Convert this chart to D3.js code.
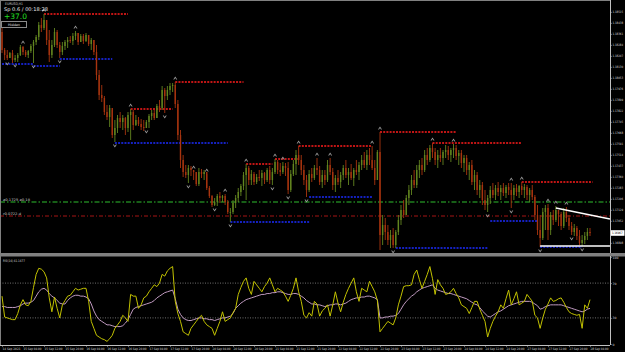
<!DOCTYPE html>
<html>
<head>
<meta charset="utf-8">
<script src="https://cdn.jsdelivr.net/npm/d3@7"></script>
<style>
  body { margin: 0; background: #000; }
  svg { display: block; }
  text { font-family: "DejaVu Sans", sans-serif; }
</style>
</head>
<body>
<div id="chart"></div>
<script>
// EURUSD H1, 14 Sep 20:00 -> 28 Sep 08:00
const firstOpen = 1.18374;
const high = [
  1.18402, 1.18262, 1.18248, 1.18234, 1.18248, 1.18213, 1.18227, 1.18283, 1.18276, 1.18248, 1.18248, 1.18290, 1.18318, 1.18353, 1.18444,
  1.18472, 1.18500, 1.18458, 1.18388, 1.18318, 1.18402, 1.18388, 1.18304, 1.18304, 1.18318, 1.18339, 1.18346, 1.18367, 1.18381, 1.18367,
  1.18360, 1.18360, 1.18367, 1.18353, 1.18332, 1.18318, 1.18283, 1.18108, 1.18003, 1.17926, 1.17863, 1.17863, 1.17828, 1.17758, 1.17793,
  1.17814, 1.17793, 1.17779, 1.17814, 1.17835, 1.17828, 1.17793, 1.17779, 1.17765, 1.17758, 1.17758, 1.17800, 1.17828, 1.17828, 1.17870,
  1.17898, 1.17996, 1.17982, 1.17996, 1.18017, 1.18017, 1.18024, 1.17898, 1.17688, 1.17513, 1.17443, 1.17443, 1.17436, 1.17401, 1.17394,
  1.17422, 1.17415, 1.17408, 1.17380, 1.17296, 1.17233, 1.17212, 1.17240, 1.17254, 1.17233, 1.17240, 1.17198, 1.17142, 1.17198, 1.17233,
  1.17282, 1.17310, 1.17394, 1.17450, 1.17436, 1.17408, 1.17394, 1.17380, 1.17408, 1.17408, 1.17394, 1.17422, 1.17436, 1.17422, 1.17485,
  1.17478, 1.17457, 1.17464, 1.17457, 1.17464, 1.17408, 1.17478, 1.17548, 1.17576, 1.17513, 1.17443, 1.17373, 1.17408, 1.17422, 1.17443,
  1.17492, 1.17436, 1.17408, 1.17408, 1.17478, 1.17492, 1.17422, 1.17373, 1.17408, 1.17394, 1.17443, 1.17478, 1.17422, 1.17450, 1.17422,
  1.17478, 1.17464, 1.17513, 1.17534, 1.17548, 1.17562, 1.17576, 1.17478, 1.17548, 1.17674, 1.17093, 1.17072, 1.17023, 1.16988, 1.17002,
  1.16988, 1.17093, 1.17163, 1.17198, 1.17233, 1.17303, 1.17373, 1.17408, 1.17443, 1.17478, 1.17492, 1.17548, 1.17562, 1.17583, 1.17597,
  1.17562, 1.17548, 1.17562, 1.17548, 1.17583, 1.17576, 1.17562, 1.17590, 1.17583, 1.17548, 1.17548, 1.17513, 1.17513, 1.17464, 1.17478,
  1.17408, 1.17394, 1.17338, 1.17324, 1.17268, 1.17233, 1.17296, 1.17317, 1.17303, 1.17324, 1.17303, 1.17317, 1.17303, 1.17317, 1.17317,
  1.17303, 1.17310, 1.17303, 1.17324, 1.17310, 1.17303, 1.17282, 1.17303, 1.17233, 1.17163, 1.17093, 1.17142, 1.17163, 1.17170, 1.17114,
  1.17128, 1.17156, 1.17128, 1.17114, 1.17142, 1.17149, 1.17093, 1.17044, 1.17030, 1.17016, 1.16988, 1.16953, 1.16974, 1.17002, 1.17002
];
const low = [
  1.18227, 1.18178, 1.18178, 1.18192, 1.18157, 1.18164, 1.18164, 1.18206, 1.18213, 1.18199, 1.18192, 1.18227, 1.18157, 1.18283, 1.18318,
  1.18374, 1.18388, 1.18283, 1.18164, 1.18192, 1.18269, 1.18262, 1.18192, 1.18213, 1.18248, 1.18262, 1.18297, 1.18283, 1.18318, 1.18283,
  1.18304, 1.18290, 1.18304, 1.18276, 1.18248, 1.18213, 1.18038, 1.17898, 1.17884, 1.17793, 1.17758, 1.17709, 1.17632, 1.17604, 1.17667,
  1.17702, 1.17688, 1.17653, 1.17674, 1.17618, 1.17688, 1.17716, 1.17716, 1.17688, 1.17681, 1.17702, 1.17702, 1.17758, 1.17758, 1.17772,
  1.17814, 1.17828, 1.17807, 1.17898, 1.17933, 1.17954, 1.17842, 1.17618, 1.17422, 1.17359, 1.17352, 1.17317, 1.17366, 1.17338, 1.17296,
  1.17296, 1.17352, 1.17338, 1.17268, 1.17212, 1.17149, 1.17156, 1.17156, 1.17177, 1.17184, 1.17163, 1.17100, 1.17044, 1.17100, 1.17142,
  1.17184, 1.17226, 1.17268, 1.17198, 1.17303, 1.17303, 1.17303, 1.17310, 1.17331, 1.17296, 1.17310, 1.17324, 1.17310, 1.17303, 1.17380,
  1.17380, 1.17366, 1.17380, 1.17366, 1.17240, 1.17254, 1.17366, 1.17373, 1.17443, 1.17373, 1.17303, 1.17219, 1.17254, 1.17324, 1.17338,
  1.17373, 1.17303, 1.17282, 1.17303, 1.17324, 1.17373, 1.17268, 1.17254, 1.17303, 1.17282, 1.17338, 1.17352, 1.17303, 1.17338, 1.17296,
  1.17373, 1.17338, 1.17408, 1.17422, 1.17408, 1.17443, 1.17408, 1.17303, 1.17422, 1.16848, 1.16883, 1.16918, 1.16883, 1.16862, 1.16862,
  1.16862, 1.16953, 1.17023, 1.17072, 1.17093, 1.17163, 1.17233, 1.17282, 1.17282, 1.17352, 1.17373, 1.17394, 1.17443, 1.17464, 1.17492,
  1.17443, 1.17422, 1.17464, 1.17443, 1.17492, 1.17478, 1.17464, 1.17492, 1.17478, 1.17443, 1.17422, 1.17394, 1.17373, 1.17338, 1.17303,
  1.17268, 1.17233, 1.17212, 1.17163, 1.17128, 1.17114, 1.17170, 1.17212, 1.17198, 1.17226, 1.17198, 1.17226, 1.17212, 1.17233, 1.17142,
  1.17198, 1.17226, 1.17212, 1.17233, 1.17212, 1.17198, 1.17184, 1.17198, 1.17058, 1.16953, 1.16869, 1.16918, 1.16988, 1.16918, 1.16953,
  1.17023, 1.17044, 1.17016, 1.16988, 1.17002, 1.17044, 1.16988, 1.16953, 1.16946, 1.16918, 1.16883, 1.16876, 1.16890, 1.16918, 1.16946
];
const close = [
  1.18248, 1.18213, 1.18192, 1.18227, 1.18178, 1.18192, 1.18213, 1.18269, 1.18234, 1.18213, 1.18241, 1.18276, 1.18304, 1.18339, 1.18423,
  1.18402, 1.18458, 1.18318, 1.18213, 1.18283, 1.18374, 1.18283, 1.18234, 1.18276, 1.18304, 1.18318, 1.18311, 1.18346, 1.18367, 1.18304,
  1.18346, 1.18311, 1.18353, 1.18290, 1.18318, 1.18234, 1.18073, 1.17933, 1.17912, 1.17814, 1.17779, 1.17842, 1.17653, 1.17702, 1.17772,
  1.17744, 1.17772, 1.17702, 1.17793, 1.17814, 1.17723, 1.17758, 1.17730, 1.17709, 1.17702, 1.17744, 1.17786, 1.17807, 1.17772, 1.17856,
  1.17842, 1.17968, 1.17926, 1.17968, 1.17996, 1.18003, 1.17870, 1.17653, 1.17478, 1.17394, 1.17373, 1.17422, 1.17408, 1.17394, 1.17310,
  1.17394, 1.17380, 1.17394, 1.17282, 1.17226, 1.17163, 1.17184, 1.17226, 1.17212, 1.17226, 1.17184, 1.17114, 1.17114, 1.17177, 1.17212,
  1.17254, 1.17296, 1.17373, 1.17422, 1.17338, 1.17380, 1.17324, 1.17359, 1.17352, 1.17387, 1.17338, 1.17408, 1.17338, 1.17394, 1.17464,
  1.17408, 1.17394, 1.17436, 1.17422, 1.17268, 1.17380, 1.17450, 1.17513, 1.17478, 1.17408, 1.17338, 1.17268, 1.17380, 1.17352, 1.17422,
  1.17408, 1.17324, 1.17373, 1.17338, 1.17443, 1.17394, 1.17303, 1.17352, 1.17324, 1.17373, 1.17422, 1.17373, 1.17394, 1.17352, 1.17408,
  1.17394, 1.17443, 1.17478, 1.17443, 1.17513, 1.17478, 1.17422, 1.17338, 1.17534, 1.16953, 1.17023, 1.16974, 1.16918, 1.16953, 1.16883,
  1.16974, 1.17058, 1.17128, 1.17093, 1.17212, 1.17268, 1.17338, 1.17303, 1.17408, 1.17443, 1.17408, 1.17513, 1.17478, 1.17562, 1.17534,
  1.17478, 1.17513, 1.17492, 1.17534, 1.17548, 1.17513, 1.17548, 1.17562, 1.17506, 1.17527, 1.17457, 1.17492, 1.17408, 1.17443, 1.17324,
  1.17373, 1.17268, 1.17303, 1.17198, 1.17163, 1.17212, 1.17268, 1.17233, 1.17282, 1.17254, 1.17282, 1.17247, 1.17289, 1.17268, 1.17233,
  1.17282, 1.17254, 1.17296, 1.17268, 1.17289, 1.17233, 1.17268, 1.17219, 1.17093, 1.16988, 1.16932, 1.17114, 1.17142, 1.16988, 1.17093,
  1.17058, 1.17128, 1.17100, 1.17016, 1.17114, 1.17072, 1.17016, 1.16974, 1.17002, 1.16946, 1.16897, 1.16918, 1.16946, 1.16974, 1.16967
];

// RSI(14) and its moving average, per bar
const rsi = [
  55, 31, 30, 29, 28, 28, 35, 45, 51, 45, 44, 49, 65, 80, 87,
  86, 83, 76, 53, 37, 54, 41, 30, 45, 50, 55, 56, 60, 64, 62,
  63, 64, 64, 49, 26, 18, 10, 8, 6, 5, 3, 6, 10, 18, 22,
  26, 33, 30, 26, 57, 55, 55, 41, 45, 53, 55, 60, 64, 68, 66,
  70, 80, 78, 84, 87, 89, 49, 35, 26, 14, 12, 10, 18, 22, 26,
  30, 33, 26, 22, 20, 18, 10, 18, 26, 37, 26, 28, 30, 36, 41,
  57, 65, 72, 76, 64, 57, 72, 68, 64, 60, 66, 70, 76, 68, 60,
  64, 62, 60, 55, 49, 56, 64, 76, 60, 49, 33, 30, 36, 32, 49,
  46, 32, 38, 41, 45, 32, 45, 60, 47, 37, 48, 57, 64, 70, 76,
  60, 49, 64, 62, 60, 72, 66, 60, 50, 14, 18, 22, 26, 24, 22,
  30, 45, 55, 66, 67, 67, 68, 80, 85, 74, 64, 72, 80, 89, 75,
  57, 74, 68, 64, 57, 58, 60, 64, 58, 53, 45, 43, 41, 35, 42,
  49, 49, 40, 33, 26, 8, 18, 26, 32, 37, 45, 41, 52, 62, 45,
  52, 60, 45, 47, 49, 57, 53, 49, 33, 30, 18, 30, 40, 46, 53,
  49, 50, 52, 53, 48, 42, 37, 35, 34, 33, 34, 18, 45, 41, 51
];
const rsiMa = [
  43, 43, 42, 42, 42, 42, 43, 44, 46, 47, 47, 48, 50, 55, 60,
  63, 64, 62, 58, 55, 53, 50, 47, 46, 46, 50, 53, 55, 56, 56,
  55, 55, 54, 52, 46, 38, 32, 28, 26, 24, 22, 22, 21, 20, 20,
  20, 21, 24, 28, 34, 40, 42, 43, 44, 45, 46, 47, 48, 50, 53,
  55, 57, 59, 60, 61, 62, 52, 40, 34, 30, 28, 27, 27, 28, 29,
  30, 30, 29, 29, 28, 28, 27, 28, 29, 30, 30, 31, 32, 35, 41,
  44, 47, 49, 51, 52, 53, 54, 55, 56, 57, 57, 58, 58, 59, 59,
  60, 60, 59, 58, 57, 57, 58, 58, 57, 55, 53, 50, 48, 46, 46,
  45, 45, 44, 43, 44, 45, 45, 46, 46, 45, 46, 47, 49, 51, 52,
  53, 53, 54, 54, 55, 55, 54, 53, 51, 30, 30, 31, 31, 32, 32,
  33, 35, 40, 45, 49, 52, 55, 57, 60, 62, 64, 65, 66, 67, 68,
  64, 62, 61, 60, 59, 58, 58, 57, 56, 55, 54, 53, 52, 50, 48,
  46, 45, 42, 38, 35, 32, 31, 33, 35, 37, 38, 40, 42, 44, 45,
  46, 47, 48, 49, 49, 49, 49, 48, 46, 44, 40, 41, 43, 44, 45,
  45, 45, 45, 45, 44, 43, 42, 41, 40, 39, 38, 37, 38, 40, 41
];

const timeLabels = [
  '14 Sep 2021', '15 Sep 04:00', '15 Sep 12:00', '15 Sep 20:00', '16 Sep 04:00', '16 Sep 12:00',
  '16 Sep 20:00', '17 Sep 04:00', '17 Sep 12:00', '17 Sep 20:00', '20 Sep 04:00', '20 Sep 12:00',
  '20 Sep 20:00', '21 Sep 04:00', '21 Sep 12:00', '21 Sep 20:00', '22 Sep 04:00', '22 Sep 12:00',
  '22 Sep 20:00', '23 Sep 04:00', '23 Sep 12:00', '23 Sep 20:00', '24 Sep 04:00', '24 Sep 12:00',
  '24 Sep 20:00', '27 Sep 04:00', '27 Sep 12:00', '27 Sep 20:00', '28 Sep 04:00'
];
const priceTicks = [
  1.18515, 1.18438, 1.18361, 1.18284, 1.18207, 1.18130, 1.18053, 1.17976, 1.17899, 1.17822, 1.17745,
  1.17668, 1.17591, 1.17514, 1.17437, 1.17360, 1.17283, 1.17206, 1.17129, 1.17052, 1.16898
];
const rsiTicks = [100, 70, 30, 0];

// [fromBar, toBar, price]
const resistance = [
  [16, 48, 1.18500], [49, 65, 1.17835], [66, 92, 1.18024], [93, 103, 1.17450], [104, 113, 1.17485],
  [113, 141, 1.17576], [144, 173, 1.17674], [164, 198, 1.17597], [198, 225, 1.17324]
];
const support = [
  [0, 12, 1.18150], [12, 22, 1.18136], [22, 42, 1.18185], [43, 86, 1.17597], [87, 117, 1.17044],
  [117, 141, 1.17219], [150, 185, 1.16862], [186, 204, 1.17051], [205, 221, 1.16869]
];
const fractalUp = [8, 16, 28, 49, 66, 73, 78, 85, 93, 104, 107, 113, 120, 125, 141, 144, 164, 172, 194, 198, 208, 211, 215];
const fractalDown = [2, 5, 12, 22, 43, 55, 62, 71, 81, 87, 103, 109, 116, 149, 185, 194, 205, 217, 221];

const pivotLevel = 1.17184;   // green dash-dot
const dayLevel = 1.17086;     // red dash-dot
const trendLine = [[211, 1.17142], [231.6, 1.17065]];
const lowLine = [[205, 1.16876], [231.6, 1.16876]];

const W = 625, H = 352;
const axisX = 610;
const up = '#62851f', down = '#a8340f';
const fontSmall = '"Liberation Sans", Arial, sans-serif';

const svg = d3.select('#chart').append('svg')
  .attr('width', W).attr('height', H)
  .style('background', '#000');

const x = d3.scaleLinear().domain([0, 224]).range([2, 590]);
const y = d3.scaleLinear().domain([1.16827, 1.18598]).range([253, 0]);
const yr = d3.scaleLinear().domain([0, 100]).range([344, 257]);

svg.append('clipPath').attr('id', 'mainclip')
  .append('rect').attr('x', 0).attr('y', 0).attr('width', axisX).attr('height', 253);
svg.append('clipPath').attr('id', 'rsiclip')
  .append('rect').attr('x', 0).attr('y', 257).attr('width', axisX).attr('height', 88);

const main = svg.append('g').attr('clip-path', 'url(#mainclip)');

// dotted support / resistance segments
main.selectAll('line.res').data(resistance).join('line')
  .attr('x1', d => x(d[0])).attr('x2', d => x(d[1]))
  .attr('y1', d => y(d[2])).attr('y2', d => y(d[2]))
  .attr('stroke', '#ff1c1c').attr('stroke-width', 1.5).attr('stroke-dasharray', '2,1.2');
main.selectAll('line.sup').data(support).join('line')
  .attr('x1', d => x(d[0])).attr('x2', d => x(d[1]))
  .attr('y1', d => y(d[2])).attr('y2', d => y(d[2]))
  .attr('stroke', '#1c2cff').attr('stroke-width', 1.5).attr('stroke-dasharray', '2,1.2');

main.append('line')
  .attr('x1', 0).attr('x2', axisX).attr('y1', y(pivotLevel)).attr('y2', y(pivotLevel))
  .attr('stroke', '#1f7f1f').attr('stroke-width', 1.3).attr('stroke-dasharray', '5,2,1.5,2');
main.append('line')
  .attr('x1', 0).attr('x2', axisX).attr('y1', y(dayLevel)).attr('y2', y(dayLevel))
  .attr('stroke', '#a51414').attr('stroke-width', 1).attr('stroke-dasharray', '4,2,1,2');

// bars
const bars = close.map((c, i) => ({ i, o: i ? close[i - 1] : firstOpen, h: high[i], l: low[i], c }));
main.selectAll('line.wick').data(bars).join('line')
  .attr('x1', d => x(d.i)).attr('x2', d => x(d.i))
  .attr('y1', d => y(d.h)).attr('y2', d => y(d.l))
  .attr('stroke', d => d.c >= d.o ? up : down).attr('stroke-width', 0.9);
main.selectAll('rect.body').data(bars).join('rect')
  .attr('x', d => x(d.i) - 0.7).attr('width', 1.4)
  .attr('y', d => y(Math.max(d.o, d.c)))
  .attr('height', d => Math.max(1, Math.abs(y(d.o) - y(d.c))))
  .attr('fill', d => d.c >= d.o ? up : down);

// fractal arrows
main.selectAll('path.fu').data(fractalUp).join('path')
  .attr('transform', i => `translate(${x(i)},${y(high[i]) - 4})`)
  .attr('d', 'M-2,1.5L0,-1.5L2,1.5L1,1.5L0,0L-1,1.5Z')
  .attr('fill', '#9c9c9c');
main.selectAll('path.fd').data(fractalDown).join('path')
  .attr('transform', i => `translate(${x(i)},${y(low[i]) + 4})`)
  .attr('d', 'M-2,-1.5L0,1.5L2,-1.5L1,-1.5L0,0L-1,-1.5Z')
  .attr('fill', '#9c9c9c');

// white trend lines
const line = d3.line().x(d => x(d[0])).y(d => y(d[1]));
main.append('path').attr('d', line(trendLine)).attr('stroke', '#fff').attr('stroke-width', 1.3).attr('fill', 'none');
main.append('path').attr('d', line(lowLine)).attr('stroke', '#fff').attr('stroke-width', 1.3).attr('fill', 'none');

// level captions
svg.append('text').attr('x', 3).attr('y', y(pivotLevel) - 1.5)
  .attr('font-size', 3.4).attr('fill', '#d0d0d0').attr('font-family', fontSmall)
  .attr('textLength', 27).attr('lengthAdjust', 'spacingAndGlyphs')
  .text('a0.1725 a0.18');
svg.append('text').attr('x', 3).attr('y', y(dayLevel) - 1.5)
  .attr('font-size', 3.4).attr('fill', '#d0d0d0').attr('font-family', fontSmall)
  .attr('textLength', 18).attr('lengthAdjust', 'spacingAndGlyphs')
  .text('r0.0722.d');

// panel frames
svg.append('rect').attr('x', 0).attr('y', 253).attr('width', W).attr('height', 3.5).attr('fill', '#808080');
svg.append('line').attr('x1', 0).attr('x2', axisX).attr('y1', 0.5).attr('y2', 0.5).attr('stroke', '#808080');
svg.append('line').attr('x1', 0.5).attr('x2', 0.5).attr('y1', 0).attr('y2', 345).attr('stroke', '#808080');

// price axis
const pAxis = svg.append('g').attr('transform', `translate(${axisX},0)`)
  .call(d3.axisRight(y).tickValues(priceTicks).tickFormat(d3.format('.5f')).tickSize(1.5).tickPadding(1));
pAxis.select('.domain').attr('stroke', '#c0c0c0').attr('d', 'M0.5,0V253');
pAxis.selectAll('.tick line').attr('stroke', '#c0c0c0');
pAxis.selectAll('.tick text').attr('fill', '#d8d8d8').attr('font-size', 3.1)
  .attr('font-family', fontSmall).attr('textLength', 10.5).attr('lengthAdjust', 'spacingAndGlyphs');

// current price marker
const last = close[close.length - 1];
svg.append('rect').attr('x', axisX + 1).attr('y', y(last) - 2.8).attr('width', 13.5).attr('height', 5.6).attr('fill', '#fff');
svg.append('text').attr('x', axisX + 2).attr('y', y(last) + 1.2)
  .attr('font-size', 3.1).attr('fill', '#000').attr('font-family', fontSmall)
  .attr('textLength', 10.5).attr('lengthAdjust', 'spacingAndGlyphs').text(d3.format('.5f')(last));

// RSI panel
const rsiG = svg.append('g').attr('clip-path', 'url(#rsiclip)');
[70, 30].forEach(v => {
  rsiG.append('line').attr('x1', 0).attr('x2', axisX).attr('y1', yr(v)).attr('y2', yr(v))
    .attr('stroke', '#8a8a8a').attr('stroke-width', 0.8).attr('stroke-dasharray', '1,1.5');
});
const rsiLine = d3.line().x((d, i) => x(i)).y(d => yr(d));
rsiG.append('path').attr('d', rsiLine(rsiMa)).attr('fill', 'none').attr('stroke', '#c09ac0').attr('stroke-width', 1);
rsiG.append('path').attr('d', rsiLine(rsi)).attr('fill', 'none').attr('stroke', '#c2c200').attr('stroke-width', 1);

const rAxis = svg.append('g').attr('transform', `translate(${axisX},0)`)
  .call(d3.axisRight(yr).tickValues(rsiTicks).tickSize(1.5).tickPadding(1));
rAxis.select('.domain').attr('stroke', '#c0c0c0').attr('d', 'M0.5,256V345');
rAxis.selectAll('.tick line').attr('stroke', '#c0c0c0');
rAxis.selectAll('.tick text').attr('fill', '#d8d8d8').attr('font-size', 3.1).attr('font-family', fontSmall);

svg.append('text').attr('x', 3).attr('y', 261.5)
  .attr('font-size', 3.4).attr('fill', '#d0d0d0').attr('font-family', fontSmall)
  .attr('textLength', 22).attr('lengthAdjust', 'spacingAndGlyphs')
  .text('RSI(14) 41.1477');

// time axis
const tAxis = svg.append('g').attr('transform', 'translate(0,345)')
  .call(d3.axisBottom(x).tickValues(timeLabels.map((t, k) => k * 8))
    .tickFormat((d, k) => timeLabels[k]).tickSize(1.5).tickPadding(1));
tAxis.select('.domain').attr('stroke', '#c0c0c0').attr('d', `M0,0.5H${axisX}`);
tAxis.selectAll('.tick line').attr('stroke', '#c0c0c0');
tAxis.selectAll('.tick text').attr('fill', '#d8d8d8').attr('font-size', 3.1)
  .attr('text-anchor', 'start').attr('font-family', fontSmall)
  .attr('textLength', 18).attr('lengthAdjust', 'spacingAndGlyphs');

// header text
svg.append('text').attr('x', 5).attr('y', 4.5).attr('font-size', 3.6).attr('fill', '#c8c8c8')
  .attr('font-family', fontSmall).attr('textLength', 18).attr('lengthAdjust', 'spacingAndGlyphs').text('EURUSD,H1');
svg.append('text').attr('x', 4).attr('y', 10.5).attr('font-size', 5).attr('fill', '#e8e8e8')
  .attr('textLength', 44).attr('lengthAdjust', 'spacingAndGlyphs').text('Sp 0.6 / 00:18:28');
svg.append('text').attr('x', 4).attr('y', 19).attr('font-size', 7.5).attr('fill', '#22e022').text('+37.0');
svg.append('rect').attr('x', 1.5).attr('y', 21.5).attr('width', 25).attr('height', 6)
  .attr('fill', '#000').attr('stroke', '#8a8a8a').attr('stroke-width', 1);
svg.append('text').attr('x', 14).attr('y', 26).attr('text-anchor', 'middle')
  .attr('font-size', 3.4).attr('fill', '#e0e0e0').attr('font-family', fontSmall).text('Hidden');
</script>
</body>
</html>
